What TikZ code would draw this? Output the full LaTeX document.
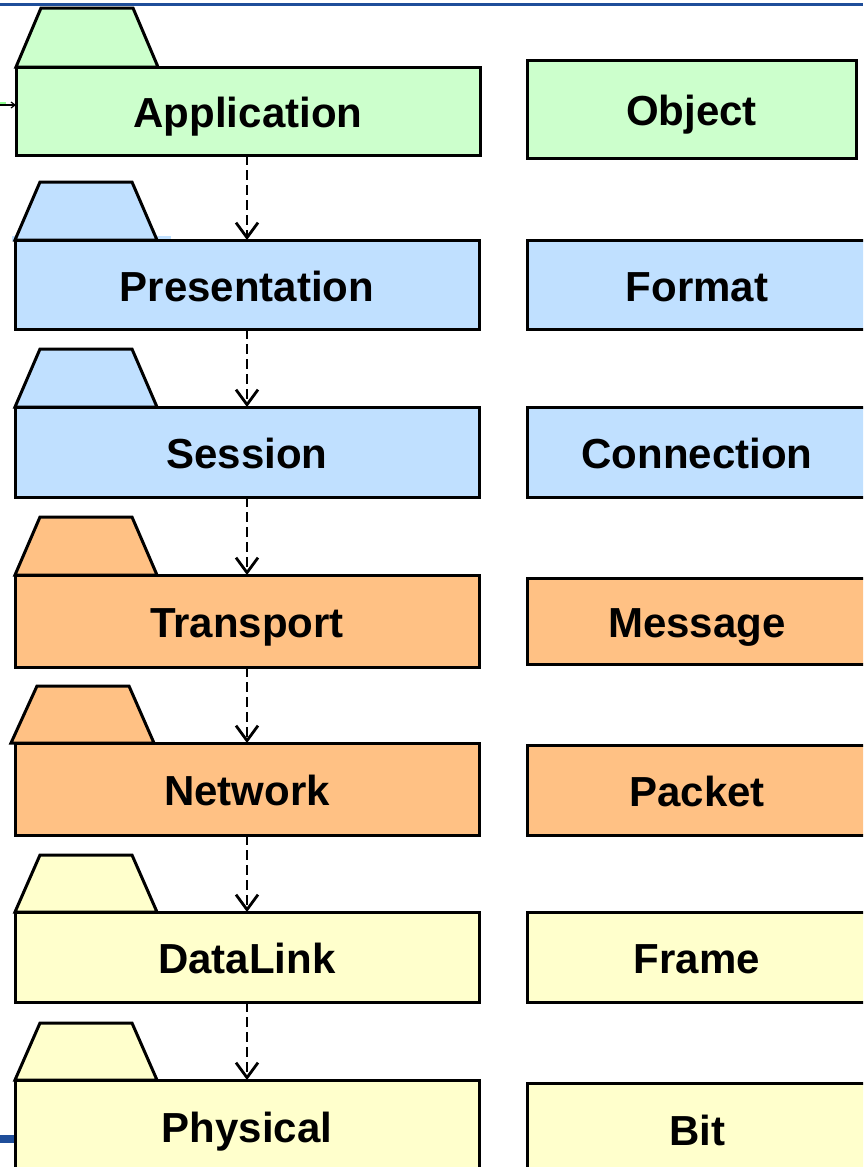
\documentclass[tikz,border=0pt]{standalone}
\usepackage{fontspec}
\setmainfont{Liberation Sans}
\usetikzlibrary{arrows.meta}
\definecolor{cgreen}{RGB}{204,255,204}
\definecolor{cblue}{RGB}{192,224,255}
\definecolor{corange}{RGB}{255,193,132}
\definecolor{cyellow}{RGB}{255,255,204}
\definecolor{cline}{RGB}{31,78,154}
\tikzset{
  body/.style={draw=black, line width=3pt, inner sep=0pt, outer sep=0pt, anchor=north west,
    text height=33pt, text depth=0pt,
    font=\fontsize{42}{48}\selectfont\bfseries, text=black},
  tab/.style={draw=black, line width=3pt, line join=miter},
  dep/.style={dash pattern=on 10pt off 5pt, line width=2.8pt,
    -{Straight Barb[length=15pt,width=22pt,line width=2.8pt]}},
}
\begin{document}
\begin{tikzpicture}[x=1pt,y=-1pt]
\useasboundingbox (0,0) rectangle (863,1167);
\clip (0,0) rectangle (863,1167);
\fill[white] (0,0) rectangle (863,1167);
% top rule
\draw[cline, line width=3pt] (0,4) -- (863,4);
% bottom-left rule
\fill[cline] (0,1135) rectangle (15,1143);
% light blue smear by presentation tab
\fill[cblue] (12,236) rectangle (171,241);
% small stub arrow at application
\fill[cgreen!70!green] (0,102) rectangle (6,106);
\coordinate (stub) at (0,105);

% tabs
\filldraw[tab, fill=cgreen]  (16,67)  -- (41,8)    -- (133,8)    -- (158,67)  -- cycle;
\filldraw[tab, fill=cblue]   (15,240) -- (40,182)  -- (132,182)  -- (157,240) -- cycle;
\filldraw[tab, fill=cblue]   (15,407) -- (40,349)  -- (132,349)  -- (157,407) -- cycle;
\filldraw[tab, fill=corange] (15,575) -- (40,517)  -- (132,517)  -- (157,575) -- cycle;
\filldraw[tab, fill=corange] (11,743) -- (37,686)  -- (129,686)  -- (154,743) -- cycle;
\filldraw[tab, fill=cyellow] (15,912) -- (40,855)  -- (132,855)  -- (157,912) -- cycle;
\filldraw[tab, fill=cyellow] (15,1080) -- (40,1023) -- (132,1023) -- (157,1080) -- cycle;

% package bodies
\node[body, fill=cgreen,  minimum width=464pt, minimum height=88pt] (app)   at (16,67)   {Application};
\node[body, fill=cblue,   minimum width=464pt, minimum height=89pt] (pres)  at (15,240)  {Presentation};
\node[body, fill=cblue,   minimum width=464pt, minimum height=90pt] (sess)  at (15,407)  {Session};
\node[body, fill=corange, minimum width=464pt, minimum height=92pt] (trans) at (15,575)  {Transport};
\node[body, fill=corange, minimum width=464pt, minimum height=92pt] (net)   at (15,743)  {Network};
\node[body, fill=cyellow, minimum width=464pt, minimum height=90pt] (dl)    at (15,912)  {DataLink};
\node[body, fill=cyellow, minimum width=464pt, minimum height=92pt] (phys)  at (15,1080) {Physical};

% data unit boxes
\node[body, fill=cgreen,  minimum width=329pt, minimum height=98pt] (obj)   at (527,60)   {Object};
\node[body, fill=cblue,   minimum width=340pt, minimum height=89pt] (fmt)   at (527,240)  {Format};
\node[body, fill=cblue,   minimum width=340pt, minimum height=90pt] (conn)  at (527,407)  {Connection};
\node[body, fill=corange, minimum width=340pt, minimum height=86pt] (msg)   at (527,578)  {Message};
\node[body, fill=corange, minimum width=340pt, minimum height=90pt] (pkt)   at (527,745)  {Packet};
\node[body, fill=cyellow, minimum width=340pt, minimum height=90pt] (frame) at (527,912)  {Frame};
\node[body, fill=cyellow, minimum width=340pt, minimum height=92pt] (bit)   at (527,1083) {Bit};

% dependency arrows
\draw[dep] (app.south -| 247,0)   -- (pres.north -| 247,0);
\draw[dep] (pres.south -| 247,0)  -- (sess.north -| 247,0);
\draw[dep] (sess.south -| 247,0)  -- (trans.north -| 247,0);
\draw[dep] (trans.south -| 247,0) -- (net.north -| 247,0);
\draw[dep] (net.south -| 247,0)   -- (dl.north -| 247,0);
\draw[dep] (dl.south -| 247,0)    -- (phys.north -| 247,0);

% stub arrow into application
\draw[line width=1.2pt, -{Straight Barb[length=4pt,width=6pt]}] (stub) -- (app.west |- 0,105);
\end{tikzpicture}
\end{document}
